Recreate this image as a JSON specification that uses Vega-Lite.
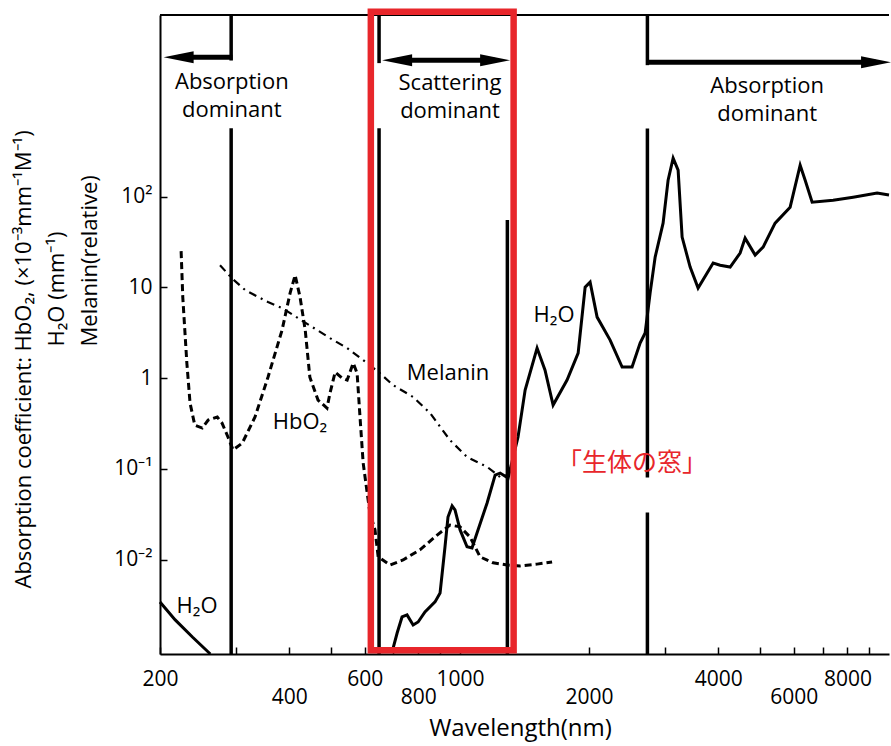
{
  "$schema": "https://vega.github.io/schema/vega-lite/v6.json",
  "width": 729,
  "height": 639,
  "autosize": "none",
  "padding": {"left": 160, "top": 15, "right": 2, "bottom": 92},
  "background": "white",
  "config": {"view": {"stroke": null}, "font": "Open Sans"},
  "datasets": {
    "curves": [
      {"series": "HbO2", "seg": "a", "wl": 224, "v": 25.0},
      {"series": "HbO2", "seg": "a", "wl": 226, "v": 7.8},
      {"series": "HbO2", "seg": "a", "wl": 231, "v": 1.46},
      {"series": "HbO2", "seg": "a", "wl": 235, "v": 0.53},
      {"series": "HbO2", "seg": "a", "wl": 241, "v": 0.303},
      {"series": "HbO2", "seg": "a", "wl": 251, "v": 0.281},
      {"series": "HbO2", "seg": "a", "wl": 259, "v": 0.344},
      {"series": "HbO2", "seg": "a", "wl": 272, "v": 0.372},
      {"series": "HbO2", "seg": "a", "wl": 279, "v": 0.319},
      {"series": "HbO2", "seg": "a", "wl": 288, "v": 0.224},
      {"series": "HbO2", "seg": "a", "wl": 296, "v": 0.161},
      {"series": "HbO2", "seg": "a", "wl": 311, "v": 0.192},
      {"series": "HbO2", "seg": "a", "wl": 333, "v": 0.372},
      {"series": "HbO2", "seg": "a", "wl": 357, "v": 1.02},
      {"series": "HbO2", "seg": "a", "wl": 385, "v": 3.37},
      {"series": "HbO2", "seg": "a", "wl": 402, "v": 8.62},
      {"series": "HbO2", "seg": "a", "wl": 413, "v": 13.6},
      {"series": "HbO2", "seg": "a", "wl": 424, "v": 7.8},
      {"series": "HbO2", "seg": "a", "wl": 436, "v": 3.37},
      {"series": "HbO2", "seg": "a", "wl": 447, "v": 1.02},
      {"series": "HbO2", "seg": "a", "wl": 467, "v": 0.571},
      {"series": "HbO2", "seg": "a", "wl": 490, "v": 0.467},
      {"series": "HbO2", "seg": "a", "wl": 498, "v": 0.682},
      {"series": "HbO2", "seg": "a", "wl": 512, "v": 1.16},
      {"series": "HbO2", "seg": "a", "wl": 531, "v": 1.0},
      {"series": "HbO2", "seg": "a", "wl": 546, "v": 0.95},
      {"series": "HbO2", "seg": "a", "wl": 564, "v": 1.46},
      {"series": "HbO2", "seg": "a", "wl": 576, "v": 1.13},
      {"series": "HbO2", "seg": "a", "wl": 585, "v": 0.372},
      {"series": "HbO2", "seg": "a", "wl": 595, "v": 0.116},
      {"series": "HbO2", "seg": "a", "wl": 608, "v": 0.054},
      {"series": "HbO2", "seg": "a", "wl": 617, "v": 0.0326},
      {"series": "HbO2", "seg": "a", "wl": 634, "v": 0.0212},
      {"series": "HbO2", "seg": "a", "wl": 645, "v": 0.0107},
      {"series": "HbO2", "seg": "a", "wl": 687, "v": 0.0087},
      {"series": "HbO2", "seg": "a", "wl": 737, "v": 0.0099},
      {"series": "HbO2", "seg": "a", "wl": 807, "v": 0.0128},
      {"series": "HbO2", "seg": "a", "wl": 885, "v": 0.0186},
      {"series": "HbO2", "seg": "a", "wl": 948, "v": 0.024},
      {"series": "HbO2", "seg": "a", "wl": 1001, "v": 0.0229},
      {"series": "HbO2", "seg": "a", "wl": 1056, "v": 0.0177},
      {"series": "HbO2", "seg": "a", "wl": 1114, "v": 0.0107},
      {"series": "HbO2", "seg": "a", "wl": 1195, "v": 0.0092},
      {"series": "HbO2", "seg": "a", "wl": 1288, "v": 0.0087},
      {"series": "HbO2", "seg": "a", "wl": 1381, "v": 0.0085},
      {"series": "HbO2", "seg": "a", "wl": 1513, "v": 0.0089},
      {"series": "HbO2", "seg": "a", "wl": 1640, "v": 0.0094},
      {"series": "Melanin", "seg": "a", "wl": 276, "v": 17.5},
      {"series": "Melanin", "seg": "a", "wl": 294, "v": 12.6},
      {"series": "Melanin", "seg": "a", "wl": 316, "v": 9.3},
      {"series": "Melanin", "seg": "a", "wl": 357, "v": 6.87},
      {"series": "Melanin", "seg": "a", "wl": 385, "v": 5.9},
      {"series": "Melanin", "seg": "a", "wl": 465, "v": 3.37},
      {"series": "Melanin", "seg": "a", "wl": 498, "v": 2.75},
      {"series": "Melanin", "seg": "a", "wl": 546, "v": 2.14},
      {"series": "Melanin", "seg": "a", "wl": 608, "v": 1.46},
      {"series": "Melanin", "seg": "a", "wl": 651, "v": 1.13},
      {"series": "Melanin", "seg": "a", "wl": 698, "v": 0.837},
      {"series": "Melanin", "seg": "a", "wl": 778, "v": 0.617},
      {"series": "Melanin", "seg": "a", "wl": 852, "v": 0.411},
      {"series": "Melanin", "seg": "a", "wl": 948, "v": 0.207},
      {"series": "Melanin", "seg": "a", "wl": 1039, "v": 0.135},
      {"series": "Melanin", "seg": "a", "wl": 1157, "v": 0.105},
      {"series": "Melanin", "seg": "a", "wl": 1241, "v": 0.081},
      {"series": "Melanin", "seg": "a", "wl": 1288, "v": 0.085},
      {"series": "H2O", "seg": "a", "wl": 200, "v": 0.0034},
      {"series": "H2O", "seg": "a", "wl": 217, "v": 0.00216},
      {"series": "H2O", "seg": "a", "wl": 238, "v": 0.0014},
      {"series": "H2O", "seg": "a", "wl": 262, "v": 0.00091},
      {"series": "H2O", "seg": "b", "wl": 695, "v": 0.00096},
      {"series": "H2O", "seg": "b", "wl": 714, "v": 0.00155},
      {"series": "H2O", "seg": "b", "wl": 733, "v": 0.00233},
      {"series": "H2O", "seg": "b", "wl": 753, "v": 0.00245},
      {"series": "H2O", "seg": "b", "wl": 778, "v": 0.0019},
      {"series": "H2O", "seg": "b", "wl": 799, "v": 0.00205},
      {"series": "H2O", "seg": "b", "wl": 829, "v": 0.00265},
      {"series": "H2O", "seg": "b", "wl": 875, "v": 0.00341},
      {"series": "H2O", "seg": "b", "wl": 899, "v": 0.00428},
      {"series": "H2O", "seg": "b", "wl": 923, "v": 0.01375},
      {"series": "H2O", "seg": "b", "wl": 938, "v": 0.0294},
      {"series": "H2O", "seg": "b", "wl": 959, "v": 0.0389},
      {"series": "H2O", "seg": "b", "wl": 974, "v": 0.0352},
      {"series": "H2O", "seg": "b", "wl": 1001, "v": 0.0212},
      {"series": "H2O", "seg": "b", "wl": 1039, "v": 0.0138},
      {"series": "H2O", "seg": "b", "wl": 1067, "v": 0.0134},
      {"series": "H2O", "seg": "b", "wl": 1096, "v": 0.0196},
      {"series": "H2O", "seg": "b", "wl": 1157, "v": 0.042},
      {"series": "H2O", "seg": "b", "wl": 1208, "v": 0.0853},
      {"series": "H2O", "seg": "b", "wl": 1241, "v": 0.0897},
      {"series": "H2O", "seg": "b", "wl": 1295, "v": 0.0791},
      {"series": "H2O", "seg": "b", "wl": 1366, "v": 0.224},
      {"series": "H2O", "seg": "b", "wl": 1419, "v": 0.737},
      {"series": "H2O", "seg": "b", "wl": 1513, "v": 2.14},
      {"series": "H2O", "seg": "b", "wl": 1579, "v": 1.22},
      {"series": "H2O", "seg": "b", "wl": 1649, "v": 0.504},
      {"series": "H2O", "seg": "b", "wl": 1777, "v": 0.95},
      {"series": "H2O", "seg": "b", "wl": 1886, "v": 1.88},
      {"series": "H2O", "seg": "b", "wl": 1958, "v": 10.0},
      {"series": "H2O", "seg": "b", "wl": 2011, "v": 11.4},
      {"series": "H2O", "seg": "b", "wl": 2088, "v": 4.69},
      {"series": "H2O", "seg": "b", "wl": 2239, "v": 2.62},
      {"series": "H2O", "seg": "b", "wl": 2388, "v": 1.32},
      {"series": "H2O", "seg": "b", "wl": 2519, "v": 1.32},
      {"series": "H2O", "seg": "b", "wl": 2630, "v": 2.43},
      {"series": "H2O", "seg": "b", "wl": 2702, "v": 3.13},
      {"series": "H2O", "seg": "b", "wl": 2775, "v": 8.62},
      {"series": "H2O", "seg": "b", "wl": 2851, "v": 21.5},
      {"series": "H2O", "seg": "b", "wl": 2975, "v": 50.9},
      {"series": "H2O", "seg": "b", "wl": 3056, "v": 151},
      {"series": "H2O", "seg": "b", "wl": 3140, "v": 265},
      {"series": "H2O", "seg": "b", "wl": 3225, "v": 195},
      {"series": "H2O", "seg": "b", "wl": 3295, "v": 35.7},
      {"series": "H2O", "seg": "b", "wl": 3440, "v": 16.7},
      {"series": "H2O", "seg": "b", "wl": 3590, "v": 9.79},
      {"series": "H2O", "seg": "b", "wl": 3892, "v": 18.5},
      {"series": "H2O", "seg": "b", "wl": 4041, "v": 17.5},
      {"series": "H2O", "seg": "b", "wl": 4264, "v": 16.7},
      {"series": "H2O", "seg": "b", "wl": 4498, "v": 23.8},
      {"series": "H2O", "seg": "b", "wl": 4620, "v": 34.8},
      {"series": "H2O", "seg": "b", "wl": 4876, "v": 22.6},
      {"series": "H2O", "seg": "b", "wl": 5089, "v": 27.7},
      {"series": "H2O", "seg": "b", "wl": 5427, "v": 50.9},
      {"series": "H2O", "seg": "b", "wl": 5883, "v": 76.3},
      {"series": "H2O", "seg": "b", "wl": 6208, "v": 221},
      {"series": "H2O", "seg": "b", "wl": 6377, "v": 151},
      {"series": "H2O", "seg": "b", "wl": 6620, "v": 86.7},
      {"series": "H2O", "seg": "b", "wl": 7410, "v": 91.2},
      {"series": "H2O", "seg": "b", "wl": 8250, "v": 98.4},
      {"series": "H2O", "seg": "b", "wl": 9383, "v": 109},
      {"series": "H2O", "seg": "b", "wl": 10000, "v": 104}
    ],
    "vlines": [
      {"wl": 293, "v": 10000, "v2": 3150},
      {"wl": 293, "v": 566, "v2": 0.00091},
      {"wl": 648, "v": 10000, "v2": 2950},
      {"wl": 648, "v": 566, "v2": 0.00091},
      {"wl": 1290, "v": 55, "v2": 0.00091},
      {"wl": 2735, "v": 10000, "v2": 2800},
      {"wl": 2735, "v": 560, "v2": 0.08},
      {"wl": 2735, "v": 0.033, "v2": 0.00091}
    ],
    "hlines": [
      {"wl": 221, "wl2": 295, "v": 3430},
      {"wl": 714, "wl2": 1208, "v": 3180},
      {"wl": 2735, "wl2": 9328, "v": 3020}
    ],
    "heads": [
      {"wl": 221, "v": 3430, "dir": "left"},
      {"wl": 714, "v": 3180, "dir": "left"},
      {"wl": 1208, "v": 3180, "dir": "right"},
      {"wl": 9328, "v": 3020, "dir": "right"}
    ],
    "frame": [{"wl": 200, "wl2": 10000, "v": 10000}],
    "window": [{"wl": 620, "wl2": 1334, "v": 0.001, "v2": 10860}],
    "labels": [
      {"text": "Absorption\ndominant", "wl": 294, "v": 1850, "kind": "black"},
      {"text": "Scattering\ndominant", "wl": 948, "v": 1760, "kind": "black"},
      {"text": "Absorption\ndominant", "wl": 5200, "v": 1630, "kind": "black"},
      {"text": "H₂O", "wl": 244, "v": 0.0031, "kind": "black"},
      {"text": "HbO₂", "wl": 424, "v": 0.327, "kind": "black"},
      {"text": "Melanin", "wl": 938, "v": 1.14, "kind": "black"},
      {"text": "H₂O", "wl": 1657, "v": 4.93, "kind": "black"},
      {"text": "「生体の窓」", "wl": 2519, "v": 0.116, "kind": "red"}
    ]
  },
  "encoding": {
    "x": {
      "field": "wl", "type": "quantitative",
      "scale": {"type": "log", "domain": [200, 10000], "nice": false},
      "axis": {
        "values": [200, 300, 400, 500, 600, 700, 800, 900, 1000, 2000, 3000, 4000, 5000, 6000, 7000, 8000, 9000],
        "labelExpr": "indexof([200,600,1000,4000,8000], datum.value) >= 0 ? format(datum.value, 'd') : indexof([400,800,2000,6000], datum.value) >= 0 ? ['', format(datum.value, 'd')] : ''",
        "labelOverlap": false, "labelFlush": false, "grid": false,
        "tickSize": -7, "tickColor": "black", "tickWidth": 1.5,
        "domainColor": "black", "domainWidth": 2,
        "labelFont": "Open Sans", "labelFontSize": 21, "labelColor": "black",
        "labelPadding": 21, "labelBaseline": "top", "labelLineHeight": 18,
        "title": "Wavelength(nm)", "titleFont": "Open Sans", "titleFontSize": 24,
        "titleFontWeight": "normal", "titleColor": "black",
        "titleBaseline": "middle", "titleX": 360, "titleY": 74
      }
    },
    "y": {
      "field": "v", "type": "quantitative",
      "scale": {"type": "log", "domain": [0.00091, 10000], "nice": false},
      "axis": {
        "values": [0.01, 0.1, 1, 10, 100],
        "labelExpr": "datum.value >= 50 ? '10²' : datum.value >= 5 ? '10' : datum.value >= 0.5 ? '1' : datum.value >= 0.05 ? '10⁻¹' : '10⁻²'",
        "labelOverlap": false, "labelFlush": false, "grid": false,
        "tickSize": -7, "tickColor": "black", "tickWidth": 1.5,
        "domainColor": "black", "domainWidth": 2,
        "labelFont": "Open Sans", "labelFontSize": 21, "labelColor": "black",
        "labelPadding": 15, "labelAlign": "right", "labelBaseline": "middle",
        "title": ["Absorption coefficient: HbO₂, (×10⁻³mm⁻¹M⁻¹)", "\u200b\u2003\u2003\u2003\u2003\u2003\u2003\u2003\u2003\u2003\u2003\u2003H₂O (mm⁻¹)", "\u200b\u2003\u2003\u2003\u2003\u2003\u2003\u2003\u2003\u2003\u2003\u2003Melanin(relative)"],
        "titleFont": "Open Sans", "titleFontSize": 22, "titleFontWeight": "normal", "titleColor": "black",
        "titleAngle": 270, "titleAlign": "left", "titleBaseline": "alphabetic",
        "titleLineHeight": 33, "titleX": -130, "titleY": 573
      }
    }
  },
  "layer": [
    {
      "data": {"name": "frame"},
      "mark": {"type": "rule", "color": "black", "strokeWidth": 2},
      "encoding": {"x2": {"field": "wl2"}}
    },
    {
      "data": {"name": "curves"},
      "transform": [{"filter": "datum.series == 'HbO2'"}],
      "mark": {"type": "line", "color": "black", "strokeWidth": 3, "strokeDash": [7, 4]}
    },
    {
      "data": {"name": "curves"},
      "transform": [{"filter": "datum.series == 'Melanin'"}],
      "mark": {"type": "line", "color": "black", "strokeWidth": 2.2, "strokeDash": [8, 5, 2, 5]}
    },
    {
      "data": {"name": "curves"},
      "transform": [{"filter": "datum.series == 'H2O'"}],
      "mark": {"type": "line", "color": "black", "strokeWidth": 3},
      "encoding": {"detail": {"field": "seg"}}
    },
    {
      "data": {"name": "vlines"},
      "mark": {"type": "rule", "color": "black", "strokeWidth": 3.5},
      "encoding": {"y2": {"field": "v2"}}
    },
    {
      "data": {"name": "hlines"},
      "mark": {"type": "rule", "color": "black", "strokeWidth": 5},
      "encoding": {"x2": {"field": "wl2"}}
    },
    {
      "data": {"name": "heads"},
      "mark": {"type": "point", "filled": true, "color": "black", "size": 900, "opacity": 1, "strokeWidth": 0},
      "encoding": {
        "shape": {"field": "dir", "type": "nominal", "legend": null,
          "scale": {"domain": ["left", "right"], "range": ["M-1,0L1,-0.4L1,0.4Z", "M1,0L-1,-0.4L-1,0.4Z"]}}
      }
    },
    {
      "data": {"name": "labels"},
      "transform": [{"filter": "datum.kind == 'black'"}],
      "mark": {"type": "text", "font": "Open Sans", "fontSize": 22, "color": "black", "align": "center", "baseline": "middle", "lineBreak": "\n", "lineHeight": 28},
      "encoding": {"text": {"field": "text"}}
    },
    {
      "data": {"name": "window"},
      "mark": {"type": "rect", "filled": false, "color": "#e8262b", "strokeWidth": 6.5},
      "encoding": {"x2": {"field": "wl2"}, "y2": {"field": "v2"}}
    },
    {
      "data": {"name": "labels"},
      "transform": [{"filter": "datum.kind == 'red'"}],
      "mark": {"type": "text", "font": "Noto Sans CJK JP", "fontSize": 25, "color": "#e8262b", "align": "center", "baseline": "middle"},
      "encoding": {"text": {"field": "text"}}
    }
  ]
}
